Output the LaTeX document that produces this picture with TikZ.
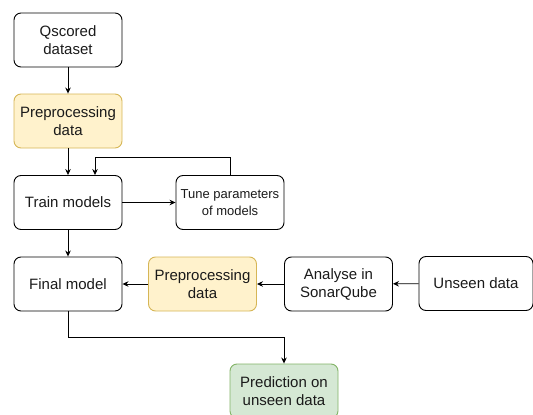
\documentclass[tikz,border=0pt]{standalone}
\usepackage{fontspec}
\setmainfont{Liberation Sans}
\usetikzlibrary{arrows.meta}
\definecolor{txt}{HTML}{1A1A1A}
\definecolor{yfill}{HTML}{FFF2CC}
\definecolor{ydraw}{HTML}{D6B656}
\definecolor{gfill}{HTML}{D5E8D4}
\definecolor{gdraw}{HTML}{82B366}
\tikzset{
  box/.style={draw=black, line width=0.9pt, rounded corners=7pt, minimum width=108pt, minimum height=54pt, inner sep=0pt, align=center, text=txt, font=\fontsize{15}{18}\selectfont},
  ybox/.style={box, draw=ydraw, fill=yfill},
  gbox/.style={box, draw=gdraw, fill=gfill},
  arr/.style={line width=0.9pt, draw=black, -{Stealth[length=6pt,width=5.5pt]}}
}
\begin{document}
\begin{tikzpicture}[x=1pt,y=-1pt]
\useasboundingbox (0,0) rectangle (533,415);
\node[box] (qs) at (68,40) {Qscored\\dataset};
\node[ybox] (pp1) at (68,121) {Preprocessing\\data};
\node[box] (train) at (68,202.5) {Train models};
\node[box, font=\fontsize{13}{16.5}\selectfont] (tune) at (230,202.5) {Tune parameters\\of models};
\node[box] (final) at (68,284) {Final model};
\node[ybox] (pp2) at (202.5,284) {Preprocessing\\data};
\node[box] (ana) at (338.5,284) {Analyse in\\SonarQube};
\node[box, minimum width=114pt] (unseen) at (476,283.5) {Unseen data};
\node[gbox] (pred) at (284,391) {Prediction on\\unseen data};
\coordinate (fb) at (95,157);
\draw[arr] (qs) -- (pp1);
\draw[arr] (pp1) -- (train);
\draw[arr] (train) -- (tune);
\draw[arr] (tune.north) |- (fb) -- (fb |- train.north);
\draw[arr] (train) -- (final);
\draw[arr] (unseen) -- (ana);
\draw[arr] (ana) -- (pp2);
\draw[arr] (pp2) -- (final);
\draw[arr] (final.south) -- ++(0,26) -| (pred.north);
\end{tikzpicture}
\end{document}
